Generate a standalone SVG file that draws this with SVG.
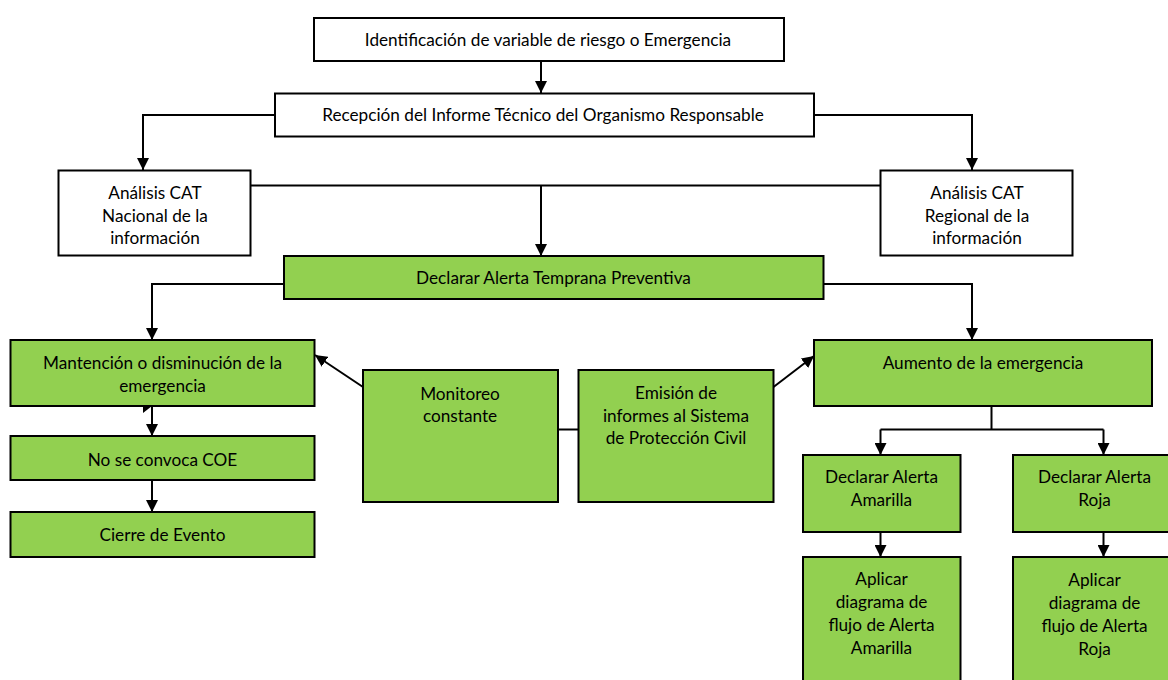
<svg xmlns="http://www.w3.org/2000/svg" width="1168" height="680" viewBox="0 0 1168 680">
<defs>
<style>
.w{fill:#ffffff;stroke:#000;stroke-width:2}
.g{fill:#92D050;stroke:#000;stroke-width:2}
.t{font-family:Lato,"Liberation Sans",sans-serif;font-size:17.2px;fill:#000;text-anchor:middle}
.c{fill:none;stroke:#000;stroke-width:2}
</style>
<marker id="ah" markerUnits="userSpaceOnUse" markerWidth="12" markerHeight="12" viewBox="0 0 10 10" refX="10" refY="5" orient="auto">
<path d="M0,0 L10,5 L0,10 z" fill="#000"/>
</marker>
</defs>
<rect width="1168" height="680" fill="#fff"/>
<g id="connectors">
<path class="c" d="M541,61 V93" marker-end="url(#ah)"/>
<path class="c" d="M275,115 H143 V170" marker-end="url(#ah)"/>
<path class="c" d="M814,115 H972 V170" marker-end="url(#ah)"/>
<path class="c" d="M250.5,185.5 H880.5"/>
<path class="c" d="M541,185.5 V256" marker-end="url(#ah)"/>
<path class="c" d="M284,284 H152 V340" marker-end="url(#ah)"/>
<path class="c" d="M823.5,284 H972 V340" marker-end="url(#ah)"/>
<path class="c" d="M363,387 L315,355" marker-end="url(#ah)"/>
<path class="c" d="M773.5,387 L814,356" marker-end="url(#ah)"/>
<path class="c" d="M558,429.5 H578.5"/>
<polygon points="143,399 152,406 143,413" fill="#000"/>
<path class="c" d="M152,406 V436" marker-end="url(#ah)"/>
<path class="c" d="M152,480 V512" marker-end="url(#ah)"/>
<path class="c" d="M991.5,406 V429.5"/>
<path class="c" d="M880.5,429.5 H1103.5"/>
<path class="c" d="M880.5,429.5 V455" marker-end="url(#ah)"/>
<path class="c" d="M1103.5,429.5 V455" marker-end="url(#ah)"/>
<path class="c" d="M880.5,532 V557" marker-end="url(#ah)"/>
<path class="c" d="M1103.5,532 V557" marker-end="url(#ah)"/>
</g>
<g id="n1"><rect class="w" x="314" y="18" width="470" height="43"/><text class="t" x="548" y="46">Identificación de variable de riesgo o Emergencia</text></g>
<g id="n2"><rect class="w" x="275" y="93.5" width="539" height="43"/><text class="t" x="543" y="121">Recepción del Informe Técnico del Organismo Responsable</text></g>
<g id="n3"><rect class="w" x="58.5" y="170.5" width="192" height="85"/><text class="t" x="155" y="199">Análisis CAT</text><text class="t" x="155" y="221.5">Nacional de la</text><text class="t" x="155" y="243.5">información</text></g>
<g id="n4"><rect class="w" x="880.5" y="170.5" width="192" height="85"/><text class="t" x="977" y="199">Análisis CAT</text><text class="t" x="977" y="221.5">Regional de la</text><text class="t" x="977" y="243.5">información</text></g>
<g id="n5"><rect class="g" x="284" y="256" width="539.5" height="43"/><text class="t" x="553.5" y="284">Declarar Alerta Temprana Preventiva</text></g>
<g id="n6"><rect class="g" x="10.5" y="340" width="304" height="66"/><text class="t" x="162.5" y="369">Mantención o disminución de la</text><text class="t" x="162.5" y="392">emergencia</text></g>
<g id="n7"><rect class="g" x="10.5" y="436" width="304" height="44"/><text class="t" x="162.5" y="466">No se convoca COE</text></g>
<g id="n8"><rect class="g" x="10.5" y="512" width="304" height="45"/><text class="t" x="162.5" y="541">Cierre de Evento</text></g>
<g id="n9"><rect class="g" x="363" y="370" width="195" height="132"/><text class="t" x="460" y="400">Monitoreo</text><text class="t" x="460" y="421.5">constante</text></g>
<g id="n10"><rect class="g" x="578.5" y="370" width="195" height="132"/><text class="t" x="676" y="399">Emisión de</text><text class="t" x="676" y="421.5">informes al Sistema</text><text class="t" x="676" y="444">de Protección Civil</text></g>
<g id="n11"><rect class="g" x="814" y="340" width="338" height="66"/><text class="t" x="983" y="368.5">Aumento de la emergencia</text></g>
<g id="n12"><rect class="g" x="803" y="455" width="157.5" height="77"/><text class="t" x="881.5" y="483">Declarar Alerta</text><text class="t" x="881.5" y="506">Amarilla</text></g>
<g id="n13"><rect class="g" x="1013" y="455" width="170" height="77"/><text class="t" x="1094.5" y="483">Declarar Alerta</text><text class="t" x="1094.5" y="506">Roja</text></g>
<g id="n14"><rect class="g" x="803" y="557" width="157.5" height="140"/><text class="t" x="881.5" y="585">Aplicar</text><text class="t" x="881.5" y="608">diagrama de</text><text class="t" x="881.5" y="631">flujo de Alerta</text><text class="t" x="881.5" y="653.5">Amarilla</text></g>
<g id="n15"><rect class="g" x="1013" y="557" width="170" height="140"/><text class="t" x="1094.5" y="586">Aplicar</text><text class="t" x="1094.5" y="609">diagrama de</text><text class="t" x="1094.5" y="632">flujo de Alerta</text><text class="t" x="1094.5" y="654.5">Roja</text></g>
</svg>
